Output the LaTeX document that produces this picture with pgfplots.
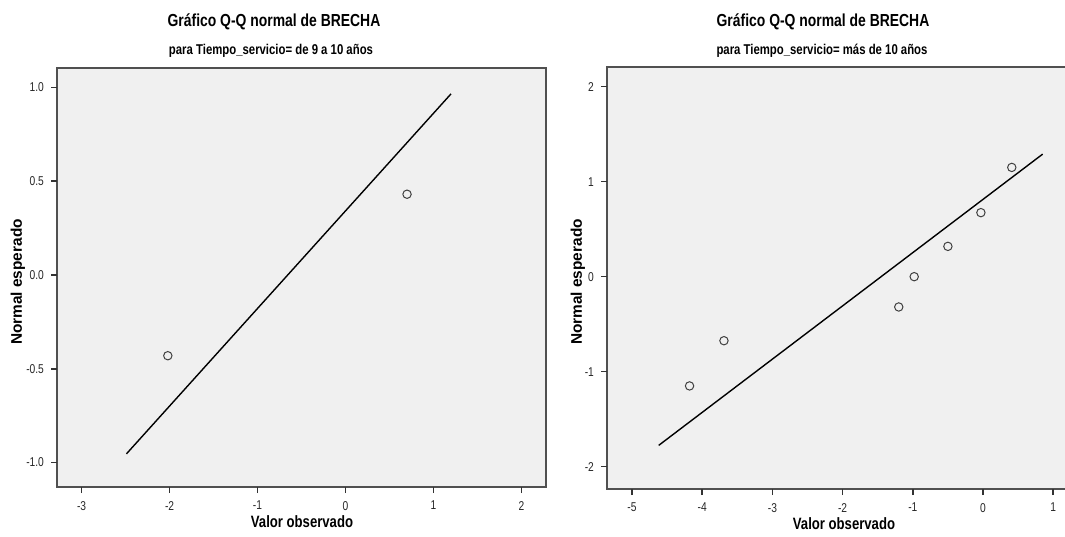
\documentclass[border=0pt]{standalone}
\usepackage{fontspec}
\setmainfont{Liberation Sans}
\newfontfamily\narrow[FakeStretch=0.80]{Liberation Sans}
\usepackage{pgfplots}
\pgfplotsset{compat=1.18}
\definecolor{bg}{HTML}{F0F0F0}
\definecolor{frame}{HTML}{505050}
\definecolor{mk}{HTML}{404040}

\pgfplotstableread{
x y
-2.02 -0.4307
0.70 0.4307
}\leftpts
\pgfplotstableread{
x y
-2.49 -0.954
1.20 0.966
}\leftline
\pgfplotstableread{
x y
-4.18 -1.150
-3.69 -0.674
-1.20 -0.319
-0.98 0.000
-0.50 0.319
-0.03 0.674
0.41 1.150
}\rightpts
\pgfplotstableread{
x y
-4.62 -1.776
0.85 1.290
}\rightline

\tikzset{tk/.style={draw=black!80, line width=0.8pt}}
\pgfplotsset{
  qq/.style={
    scale only axis,
    axis background/.style={fill=bg},
    axis line style={draw=frame, line width=0.6pt},
    tick align=outside,
    xtick pos=left, ytick pos=left,
    minor tick num=0,
    tick label style={font=\narrow\fontsize{6.4}{7}\selectfont, text=black!85},
    /pgf/number format/assume math mode=true,
    clip=false,
    major tick length=3pt,
    every major tick/.append style={draw=black!80, line width=0.8pt},
  }
}

\begin{document}
\begin{tikzpicture}
% left
\begin{axis}[qq,
  at={(28.5pt,24.5pt)}, anchor=south west,
  width=244.5pt, height=209.5pt,
  xmin=-3.28, xmax=2.28, ymin=-1.131, ymax=1.104,
  xtick={-3,-2,-1,0,1,2},
  ytick={-1,-0.5,0,0.5,1},
  yticklabel style={/pgf/number format/.cd, fixed, fixed zerofill, precision=1},
  xticklabel style={yshift=-0.5pt},
]
\addplot[black, line width=0.7pt] table[x=x,y=y] {\leftline};
\addplot[only marks, mark=o, mark size=2.1pt, mark options={draw=mk, line width=0.5pt}] table[x=x,y=y] {\leftpts};
\pgfplotsinvokeforeach{-3,-2,-1,0,1,2}{\draw[tk] (axis cs:#1,-1.131) -- ++(0pt,-3pt);}
\pgfplotsinvokeforeach{-1,-0.5,0,0.5,1}{\draw[tk] (axis cs:-3.28,#1) -- ++(-3pt,0pt);}
\end{axis}
% right
\begin{axis}[qq,
  at={(303.5pt,23.5pt)}, anchor=south west,
  width=230.5pt, height=211pt,
  xmin=-5.356, xmax=1.211, ymin=-2.235, ymax=2.207,
  xtick={-5,-4,-3,-2,-1,0,1},
  ytick={-2,-1,0,1,2},
  xticklabel style={yshift=-0.5pt},
]
\addplot[black, line width=0.7pt] table[x=x,y=y] {\rightline};
\addplot[only marks, mark=o, mark size=2.1pt, mark options={draw=mk, line width=0.5pt}] table[x=x,y=y] {\rightpts};
\pgfplotsinvokeforeach{-5,-4,-3,-2,-1,0,1}{\draw[tk] (axis cs:#1,-2.235) -- ++(0pt,-3pt);}
\pgfplotsinvokeforeach{-2,-1,0,1,2}{\draw[tk] (axis cs:-5.356,#1) -- ++(-3pt,0pt);}
\end{axis}
% titles
\node[font=\narrow\bfseries\fontsize{8.7}{10}\selectfont] at (137pt,257pt) {Gráfico Q-Q normal de BRECHA};
\node[font=\narrow\bfseries\fontsize{7.1}{8}\selectfont] at (135.5pt,242.5pt) {para Tiempo\_servicio= de 9 a 10 años};
\node[font=\narrow\bfseries\fontsize{8.7}{10}\selectfont] at (411.5pt,257pt) {Gráfico Q-Q normal de BRECHA};
\node[font=\narrow\bfseries\fontsize{7.1}{8}\selectfont] at (411pt,242.5pt) {para Tiempo\_servicio= más de 10 años};
\node[font=\narrow\bfseries\fontsize{8.2}{9}\selectfont] at (151pt,7pt) {Valor observado};
\node[font=\narrow\bfseries\fontsize{8.2}{9}\selectfont] at (422pt,6pt) {Valor observado};
\node[font=\bfseries\fontsize{7.7}{9}\selectfont, rotate=90] at (9pt,127pt) {Normal esperado};
\node[font=\bfseries\fontsize{7.7}{9}\selectfont, rotate=90] at (289pt,127pt) {Normal esperado};
\pgfresetboundingbox
\path[use as bounding box] (0,0) rectangle (532.5pt,268pt);
\end{tikzpicture}
\end{document}
